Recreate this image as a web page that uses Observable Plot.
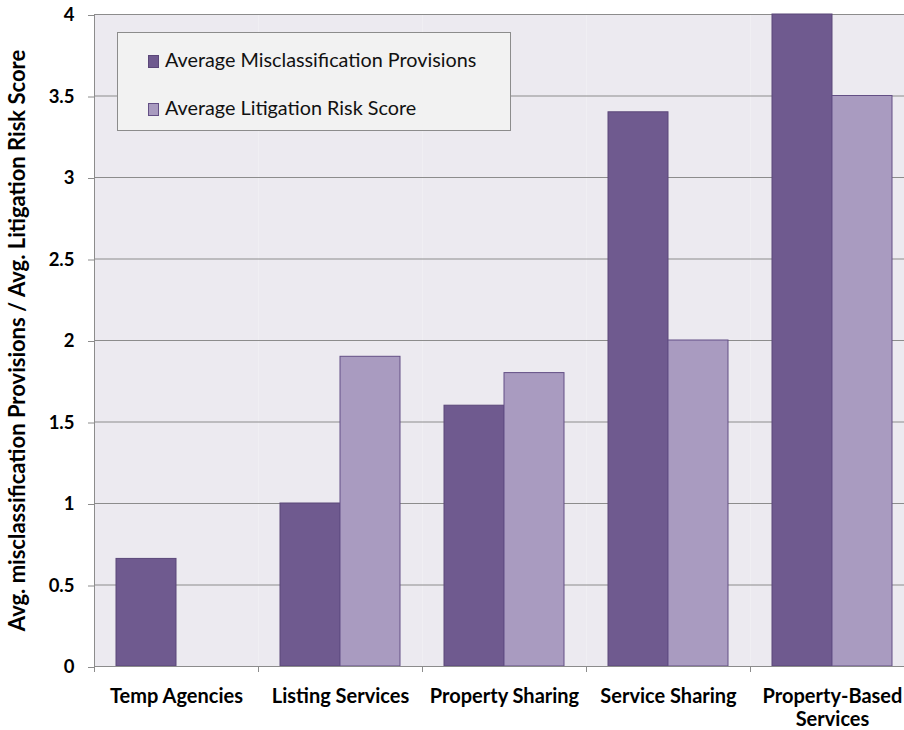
<!DOCTYPE html>
<html>
<head>
<meta charset="utf-8">
<script src="https://cdn.jsdelivr.net/npm/d3@7"></script>
<script src="https://cdn.jsdelivr.net/npm/@observablehq/plot@0.6"></script>
<style>
  html, body { margin: 0; padding: 0; background: #ffffff; overflow: hidden; }
  #wrap { position: relative; width: 904px; height: 730px; overflow: hidden; font-family: Lato, "Open Sans", sans-serif; }
  #chart svg { max-width: none !important; display: block; }
  #legend { position: absolute; left: 117px; top: 32px; width: 394px; height: 99px; background: #F2F2F2; border: 1px solid #8C8C8C; box-sizing: border-box; }
  .item { position: absolute; left: 30px; font-size: 19.8px; color: #111; white-space: nowrap; line-height: 22px; }
  .sw { display: inline-block; width: 11px; height: 13px; margin-right: 6px; vertical-align: -1px; box-sizing: border-box; border: 1px solid; }
</style>
</head>
<body>
<div id="wrap"><div id="chart"></div><div id="legend"></div></div>
<script>
const categories = ["Temp Agencies", "Listing Services", "Property Sharing", "Service Sharing", "Property-Based Services"];
const categoryTickLabels = ["Temp Agencies", "Listing Services", "Property Sharing", "Service Sharing", "Property-Based\nServices"];
const seriesNames = ["Average Misclassification Provisions", "Average Litigation Risk Score"];
const misclassification = [0.66, 1.0, 1.6, 3.4, 4.0];
const litigation = [0, 1.9, 1.8, 2.0, 3.5];
const yTicks = [0, 0.5, 1, 1.5, 2, 2.5, 3, 3.5, 4];
const yLabel = "Avg. misclassification Provisions / Avg. Litigation Risk Score";
const seriesFill = ["#6F5A8F", "#A99BC0"];
const seriesStroke = ["#5B4779", "#634F85"];

const seriesValues = [misclassification, litigation];
const data = categories.flatMap((c, i) => seriesNames.map((s, j) => ({category: c, series: s, value: seriesValues[j][i]})));

const W = 914, H = 730, ML = 94, MR = 0, MT = 14, MB = 64;
const step = (W - ML - MR) / categories.length;
const axisColor = "#8C8C8C";
const font = "Lato, 'Open Sans', sans-serif";

const chart = Plot.plot({
  width: W, height: H,
  marginLeft: ML, marginRight: MR, marginTop: MT, marginBottom: MB,
  style: {fontFamily: font, background: "transparent", color: "#000", maxWidth: "none"},
  fx: {domain: categories, padding: 0, axis: null, label: null},
  x: {domain: seriesNames, paddingInner: 0, paddingOuter: 0.355, axis: null},
  y: {domain: [0, 4], axis: null},
  marks: [
    Plot.frame({fill: "#ECEAF0", stroke: "none"}),
    Plot.gridY(yTicks, {stroke: axisColor, strokeOpacity: 1, strokeWidth: 1}),
    ...seriesNames.map((s, j) => Plot.barY(data.filter(d => d.series === s && d.value > 0), {
      fx: "category", x: "series", y: "value",
      fill: seriesFill[j], stroke: seriesStroke[j], strokeWidth: 1
    })),
    Plot.ruleY([0], {stroke: axisColor}),
    Plot.frame({anchor: "left", facetAnchor: "left", stroke: axisColor}),
    Plot.axisY(yTicks, {
      tickSize: 6, tickPadding: 14, stroke: axisColor, fill: "#000",
      fontSize: 18.5, fontWeight: "bold", dy: 1,
      tickFormat: d => String(d), label: null
    }),
    Plot.text([yLabel], {
      frameAnchor: "left", facetAnchor: "left", rotate: -90, dx: -77, textAnchor: "middle",
      fontSize: 22, fontWeight: "bold", fill: "#000", text: d => d
    }),
    Plot.axisFx({
      anchor: "bottom", tickSize: 0, tickPadding: 20, fontSize: 20, fontWeight: "bold", lineHeight: 1.165,
      tickFormat: d => categoryTickLabels[categories.indexOf(d)], label: null
    }),
    Plot.axisFx({
      anchor: "bottom", tickSize: 6, tickFormat: () => "", stroke: axisColor, dx: -step / 2, label: null
    })
  ]
});
document.getElementById("chart").appendChild(chart);

const legend = document.getElementById("legend");
seriesNames.forEach((s, j) => {
  const item = document.createElement("div");
  item.className = "item";
  item.style.top = (j === 0 ? 15 : 63) + "px";
  const sw = document.createElement("span");
  sw.className = "sw";
  sw.style.background = seriesFill[j];
  sw.style.borderColor = seriesStroke[j];
  item.appendChild(sw);
  item.appendChild(document.createTextNode(s));
  legend.appendChild(item);
});
</script>
</body>
</html>
